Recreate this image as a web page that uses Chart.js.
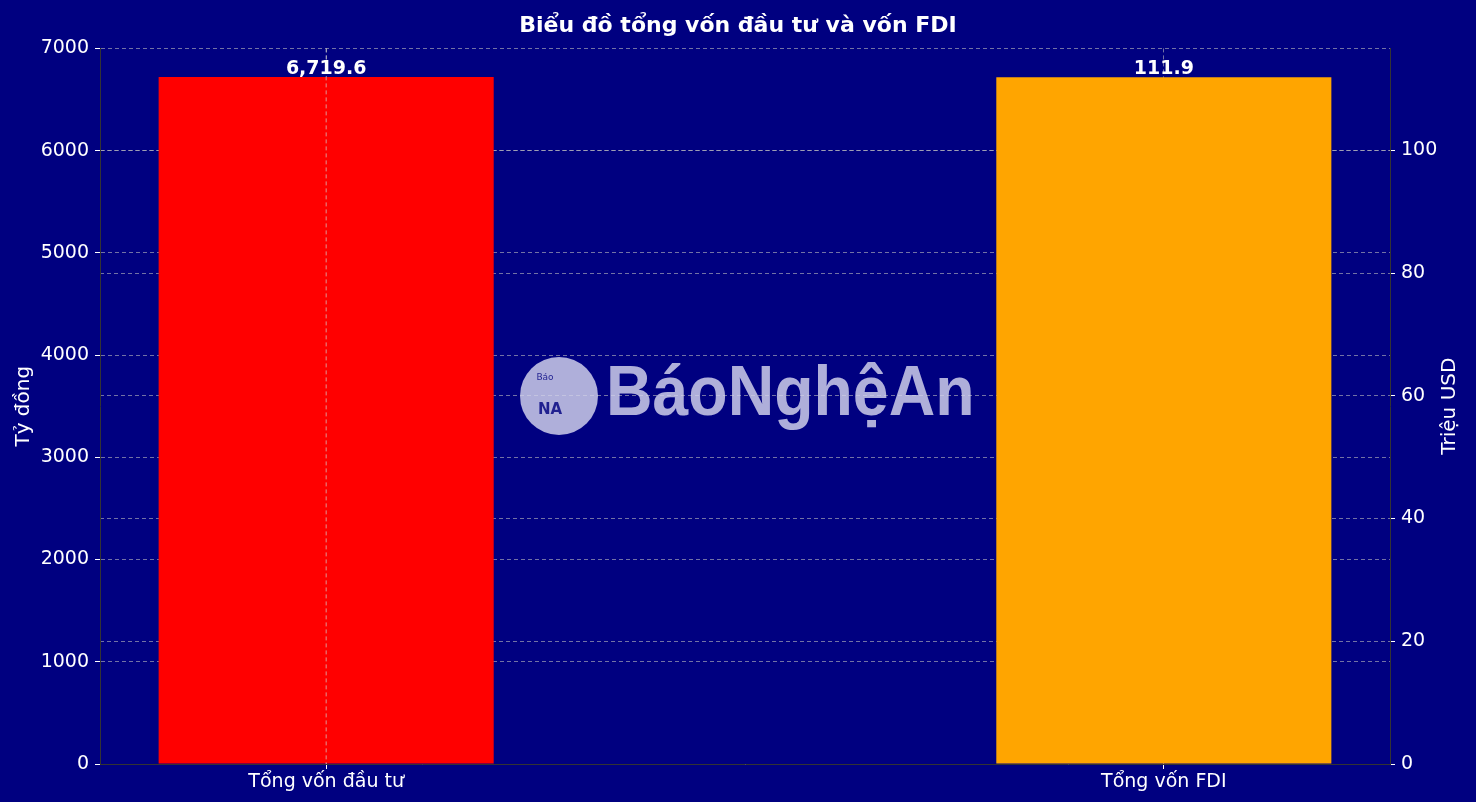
<!DOCTYPE html>
<html><head><meta charset="utf-8">
<script src="https://cdn.jsdelivr.net/npm/chart.js@4"></script>
<style>html,body{margin:0;background:#000080;}#w{width:1476px;height:802px;}</style>
</head><body><div id="w"><canvas id="c"></canvas></div>
<script>
const categories = ["Tổng vốn đầu tư", "Tổng vốn FDI"];
const investValues = [6719.6];   // Tỷ đồng
const fdiValues = [111.9];       // Triệu USD
const valueLabels = ["6,719.6", "111.9"];
const rightTicks = [0, 20, 40, 60, 80, 100];

const txt = '#ffffff', grid = 'rgba(190,190,190,0.6)';
const font = {family: 'DejaVu Sans', size: 19};

const labelPlugin = {
  id: 'lbl',
  afterDatasetsDraw(chart) {
    const ctx = chart.ctx;
    const ca = chart.chartArea;
    ctx.save();
    // vertical grid line over the first bar (drawn on top as in reference)
    const gx = chart.scales.x.getPixelForValue(0);
    ctx.strokeStyle = 'rgba(210,210,210,0.7)'; ctx.lineWidth = 1; ctx.setLineDash([4, 3]);
    ctx.beginPath(); ctx.moveTo(gx, ca.top); ctx.lineTo(gx, ca.bottom); ctx.stroke();
    ctx.setLineDash([]);
    ctx.fillStyle = '#fff';
    ctx.font = 'bold 19px DejaVu Sans';
    ctx.textAlign = 'center';
    ctx.textBaseline = 'bottom';
    chart.data.datasets.forEach((ds, i) => {
      const el = chart.getDatasetMeta(i).data[0];
      ctx.fillText(valueLabels[i], el.x, el.y + 1);
    });
    ctx.font = '20px DejaVu Sans';
    ctx.textBaseline = 'middle';
    const my = (ca.top + ca.bottom) / 2;
    [[24, 'Tỷ đồng'], [1450, 'Triệu USD']].forEach(([x, t]) => {
      ctx.save(); ctx.translate(x, my); ctx.rotate(-Math.PI / 2); ctx.fillText(t, 0, 0); ctx.restore();
    });
    const cy = 396;
    ctx.globalAlpha = 0.82;
    ctx.fillStyle = '#d6d6ee';
    ctx.beginPath(); ctx.arc(559, cy, 39, 0, Math.PI * 2); ctx.fill();
    ctx.fillStyle = '#000080';
    ctx.font = 'bold 15px DejaVu Sans';
    ctx.textAlign = 'center';
    ctx.fillText('NA', 550, cy + 14);
    ctx.font = '9px DejaVu Sans';
    ctx.fillText('Báo', 545, cy - 18);
    ctx.fillStyle = '#d6d6ee';
    ctx.font = 'bold 70px "Liberation Sans Narrow", "Liberation Sans"';
    ctx.textAlign = 'left';
    ctx.save(); ctx.translate(606, cy); ctx.scale(0.92, 1);
    ctx.fillText('BáoNghệAn', 0, 0);
    ctx.restore();
    ctx.restore();
  }
};

new Chart(document.getElementById('c'), {
  type: 'bar',
  data: {
    datasets: [
      {label: 'Tổng vốn đầu tư', data: investValues.map(v => ({x: 0, y: v})), backgroundColor: '#ff0000', yAxisID: 'y', xAxisID: 'x'},
      {label: 'Tổng vốn FDI', data: fdiValues.map(v => ({x: 1, y: v})), backgroundColor: '#ffa500', yAxisID: 'y2', xAxisID: 'x'}
    ]
  },
  options: {
    responsive: true, maintainAspectRatio: false, animation: false,
    layout: {padding: 0},
    datasets: {bar: {grouped: false, barPercentage: 0.4, categoryPercentage: 1}},
    plugins: {
      legend: {display: false}, tooltip: {enabled: false},
      title: {display: true, text: 'Biểu đồ tổng vốn đầu tư và vốn FDI', color: txt,
        font: {family: 'DejaVu Sans', size: 22, weight: 'bold'}, padding: {top: 13, bottom: 9}}
    },
    scales: {
      x: {type: 'linear', min: -0.27, max: 1.27, offset: false,
        afterBuildTicks: s => { s.ticks = [{value: 0}, {value: 1}]; },
        afterFit: s => { s.height = 38; },
        ticks: {color: txt, font, padding: 2, callback: v => categories[v] ?? ''},
        grid: {color: grid, tickColor: txt, tickLength: 5, offset: false},
        border: {color: '#333', dash: [4, 3]}},
      y: {position: 'left', min: 0, max: 7000,
        ticks: {stepSize: 1000, color: txt, font, padding: 6, callback: v => String(v)},
        afterFit: s => { s.width = 100; },
        grid: {color: grid, tickColor: txt, tickLength: 5}, border: {color: '#333', dash: [4, 3]}},
      y2: {position: 'right', min: 0, max: 116.6,
        afterBuildTicks: s => { s.ticks = rightTicks.map(v => ({value: v})); },
        ticks: {color: txt, font, padding: 6},
        afterFit: s => { s.width = 86; },
        grid: {color: grid, tickColor: txt, tickLength: 5}, border: {color: '#333', dash: [4, 3]}}
    }
  },
  plugins: [labelPlugin]
});
</script></body></html>
